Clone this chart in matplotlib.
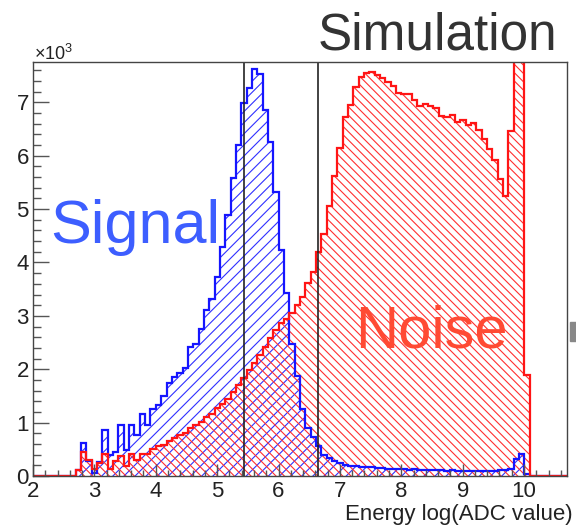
import numpy as np
import matplotlib
matplotlib.use('Agg')
import matplotlib.pyplot as plt
from matplotlib.ticker import MultipleLocator
from matplotlib.patches import Rectangle

plt.rcParams['font.family'] = ['Liberation Sans', 'DejaVu Sans']
plt.rcParams['mathtext.fontset'] = 'custom'
plt.rcParams['mathtext.rm'] = 'Liberation Sans'
plt.rcParams['hatch.linewidth'] = 0.8

# 100 bins over log(ADC) in [2, 10.7], bin contents in units of 10^3
edges = np.linspace(2.0, 10.7, 101)

signal = [
    0, 0, 0, 0, 0, 0, 0, 0, 0.11, 0.61,
    0.29, 0.05, 0.27, 0.86, 0.39, 0.45, 0.95, 0.49, 0.95, 0.77,
    1.16, 0.95, 1.25, 1.33, 1.49, 1.75, 1.86, 1.93, 2.02, 2.42,
    2.48, 2.75, 3.11, 3.31, 3.73, 4.29, 4.89, 5.59, 6.20, 6.99,
    7.26, 7.63, 7.54, 6.85, 6.25, 5.32, 4.23, 3.42, 2.48, 1.87,
    1.25, 0.89, 0.73, 0.56, 0.39, 0.33, 0.28, 0.24, 0.21, 0.19,
    0.18, 0.17, 0.16, 0.16, 0.15, 0.15, 0.14, 0.14, 0.13, 0.13,
    0.12, 0.13, 0.12, 0.12, 0.11, 0.12, 0.11, 0.10, 0.11, 0.10,
    0.10, 0.09, 0.10, 0.09, 0.10, 0.09, 0.10, 0.12, 0.11, 0.13,
    0.31, 0.42, 0.03, 0, 0, 0, 0, 0, 0, 0,
]

noise = [
    0, 0, 0, 0, 0, 0, 0, 0, 0.11, 0.45,
    0.30, 0.14, 0.24, 0.41, 0.13, 0.29, 0.37, 0.19, 0.41, 0.30,
    0.42, 0.42, 0.50, 0.56, 0.59, 0.66, 0.72, 0.77, 0.81, 0.89,
    0.95, 1.02, 1.11, 1.17, 1.27, 1.35, 1.44, 1.58, 1.70, 1.83,
    1.99, 2.11, 2.27, 2.42, 2.58, 2.73, 2.86, 2.95, 3.05, 3.20,
    3.36, 3.61, 3.83, 4.20, 4.54, 5.06, 5.62, 6.14, 6.73, 6.95,
    7.28, 7.48, 7.55, 7.57, 7.51, 7.45, 7.38, 7.30, 7.18, 7.16,
    7.15, 7.05, 6.93, 6.96, 6.93, 6.89, 6.74, 6.73, 6.77, 6.63,
    6.66, 6.57, 6.61, 6.49, 6.32, 6.12, 5.92, 5.56, 5.24, 6.46,
    9.80, 9.80, 1.90, 0, 0, 0, 0, 0, 0, 0,
]

cut_low = 5.43
cut_high = 6.64

W, H = 576, 525
fig = plt.figure(figsize=(W / 100, H / 100), dpi=100)
ax = fig.add_axes([33 / W, 1 - 476 / H, (567 - 33) / W, (476 - 62.3) / H])

# hatched fills, then outlines on top
ax.stairs(signal, edges, fill=True, facecolor='none', edgecolor='#3030ff',
          hatch='///', linewidth=0)
ax.stairs(noise, edges, fill=True, facecolor='none', edgecolor='#ff3030',
          hatch='\\\\\\\\', linewidth=0)
ax.stairs(signal, edges, color='#1515ff', linewidth=1.6)
ax.stairs(noise, edges, color='#ff1515', linewidth=1.6)

ax.axvline(cut_low, color='#222222', lw=1.2)
ax.axvline(cut_high, color='#222222', lw=1.2)

ax.set_xlim(2, 10.7)
ax.set_ylim(0, 7.75)

ax.xaxis.set_major_locator(MultipleLocator(1))
ax.xaxis.set_minor_locator(MultipleLocator(0.2))
ax.yaxis.set_major_locator(MultipleLocator(1))
ax.yaxis.set_minor_locator(MultipleLocator(0.2))
ax.tick_params(which='both', direction='in', top=False, right=False,
               color='#555555', labelsize=16, labelcolor='#222222')
ax.tick_params(axis='y', which='major', length=11.5, width=1, pad=3)
ax.tick_params(axis='y', which='minor', length=6, width=1)
ax.tick_params(axis='x', which='major', length=9, width=1, pad=3.5)
ax.tick_params(axis='x', which='minor', length=4.5, width=1)
for sp in ax.spines.values():
    sp.set_color('#444444')
    sp.set_linewidth(1)

fig.text(34 / W, 1 - 59.5 / H, '×10$^{3}$', fontsize=13, ha='left',
         va='baseline', color='#222222')
fig.text(557 / W, 1 - 50 / H, 'Simulation', fontsize=37, ha='right',
         va='baseline', color='#333333')
fig.text(50 / W, 1 - 243 / H, 'Signal', fontsize=44, ha='left',
         va='baseline', color='#3d5eff')
fig.text(355 / W, 1 - 347 / H, 'Noise', fontsize=43, ha='left',
         va='baseline', color='#ff4a33')
fig.text(573 / W, 1 - 520 / H, 'Energy log(ADC value)', fontsize=16,
         ha='right', va='baseline', color='#222222')

fig.add_artist(Rectangle((570 / W, 1 - 341 / H), 6 / W, 19 / H,
                         transform=fig.transFigure, color='#888888'))

fig.savefig('out.png', dpi=100)
